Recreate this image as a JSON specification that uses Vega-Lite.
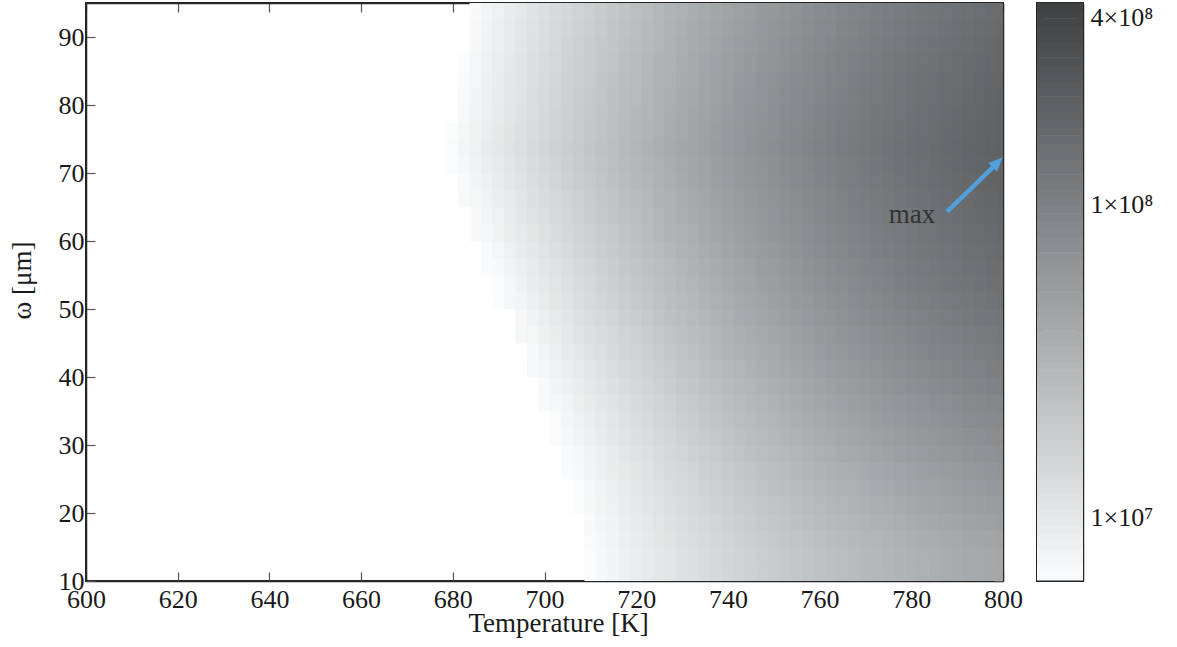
{
"$schema": "https://vega.github.io/schema/vega-lite/v6.json",
"background": "white",
"padding": {"left": 7, "top": 1, "right": 5, "bottom": 5},
"spacing": 11,
"datasets": {
"grid": [
{"T":710,"w":12.5,"lv":6.807},{"T":712.5,"w":12.5,"lv":6.841},{"T":715,"w":12.5,"lv":6.874},{"T":717.5,"w":12.5,"lv":6.907},{"T":720,"w":12.5,"lv":6.939},{"T":722.5,"w":12.5,"lv":6.971},{"T":725,"w":12.5,"lv":7.002},{"T":727.5,"w":12.5,"lv":7.033},{"T":730,"w":12.5,"lv":7.062},{"T":732.5,"w":12.5,"lv":7.091},{"T":735,"w":12.5,"lv":7.120},{"T":737.5,"w":12.5,"lv":7.148},{"T":740,"w":12.5,"lv":7.175},{"T":742.5,"w":12.5,"lv":7.201},{"T":745,"w":12.5,"lv":7.227},{"T":747.5,"w":12.5,"lv":7.252},{"T":750,"w":12.5,"lv":7.277},{"T":752.5,"w":12.5,"lv":7.301},{"T":755,"w":12.5,"lv":7.324},{"T":757.5,"w":12.5,"lv":7.347},{"T":760,"w":12.5,"lv":7.369},{"T":762.5,"w":12.5,"lv":7.390},{"T":765,"w":12.5,"lv":7.411},{"T":767.5,"w":12.5,"lv":7.431},{"T":770,"w":12.5,"lv":7.451},{"T":772.5,"w":12.5,"lv":7.470},{"T":775,"w":12.5,"lv":7.488},{"T":777.5,"w":12.5,"lv":7.505},{"T":780,"w":12.5,"lv":7.522},{"T":782.5,"w":12.5,"lv":7.539},{"T":785,"w":12.5,"lv":7.554},{"T":787.5,"w":12.5,"lv":7.569},{"T":790,"w":12.5,"lv":7.584},{"T":792.5,"w":12.5,"lv":7.598},{"T":795,"w":12.5,"lv":7.611},{"T":797.5,"w":12.5,"lv":7.623},{"T":800,"w":12.5,"lv":7.635},
{"T":710,"w":17.5,"lv":6.826},{"T":712.5,"w":17.5,"lv":6.862},{"T":715,"w":17.5,"lv":6.897},{"T":717.5,"w":17.5,"lv":6.932},{"T":720,"w":17.5,"lv":6.966},{"T":722.5,"w":17.5,"lv":7.000},{"T":725,"w":17.5,"lv":7.033},{"T":727.5,"w":17.5,"lv":7.065},{"T":730,"w":17.5,"lv":7.096},{"T":732.5,"w":17.5,"lv":7.127},{"T":735,"w":17.5,"lv":7.157},{"T":737.5,"w":17.5,"lv":7.187},{"T":740,"w":17.5,"lv":7.216},{"T":742.5,"w":17.5,"lv":7.244},{"T":745,"w":17.5,"lv":7.271},{"T":747.5,"w":17.5,"lv":7.298},{"T":750,"w":17.5,"lv":7.324},{"T":752.5,"w":17.5,"lv":7.350},{"T":755,"w":17.5,"lv":7.374},{"T":757.5,"w":17.5,"lv":7.398},{"T":760,"w":17.5,"lv":7.422},{"T":762.5,"w":17.5,"lv":7.445},{"T":765,"w":17.5,"lv":7.467},{"T":767.5,"w":17.5,"lv":7.488},{"T":770,"w":17.5,"lv":7.509},{"T":772.5,"w":17.5,"lv":7.529},{"T":775,"w":17.5,"lv":7.548},{"T":777.5,"w":17.5,"lv":7.567},{"T":780,"w":17.5,"lv":7.585},{"T":782.5,"w":17.5,"lv":7.602},{"T":785,"w":17.5,"lv":7.619},{"T":787.5,"w":17.5,"lv":7.635},{"T":790,"w":17.5,"lv":7.650},{"T":792.5,"w":17.5,"lv":7.665},{"T":795,"w":17.5,"lv":7.679},{"T":797.5,"w":17.5,"lv":7.692},{"T":800,"w":17.5,"lv":7.705},
{"T":707.5,"w":22.5,"lv":6.816},{"T":710,"w":22.5,"lv":6.854},{"T":712.5,"w":22.5,"lv":6.892},{"T":715,"w":22.5,"lv":6.929},{"T":717.5,"w":22.5,"lv":6.965},{"T":720,"w":22.5,"lv":7.001},{"T":722.5,"w":22.5,"lv":7.036},{"T":725,"w":22.5,"lv":7.070},{"T":727.5,"w":22.5,"lv":7.104},{"T":730,"w":22.5,"lv":7.137},{"T":732.5,"w":22.5,"lv":7.169},{"T":735,"w":22.5,"lv":7.200},{"T":737.5,"w":22.5,"lv":7.231},{"T":740,"w":22.5,"lv":7.261},{"T":742.5,"w":22.5,"lv":7.291},{"T":745,"w":22.5,"lv":7.320},{"T":747.5,"w":22.5,"lv":7.348},{"T":750,"w":22.5,"lv":7.375},{"T":752.5,"w":22.5,"lv":7.402},{"T":755,"w":22.5,"lv":7.428},{"T":757.5,"w":22.5,"lv":7.453},{"T":760,"w":22.5,"lv":7.477},{"T":762.5,"w":22.5,"lv":7.501},{"T":765,"w":22.5,"lv":7.524},{"T":767.5,"w":22.5,"lv":7.547},{"T":770,"w":22.5,"lv":7.568},{"T":772.5,"w":22.5,"lv":7.589},{"T":775,"w":22.5,"lv":7.609},{"T":777.5,"w":22.5,"lv":7.629},{"T":780,"w":22.5,"lv":7.648},{"T":782.5,"w":22.5,"lv":7.667},{"T":785,"w":22.5,"lv":7.684},{"T":787.5,"w":22.5,"lv":7.701},{"T":790,"w":22.5,"lv":7.717},{"T":792.5,"w":22.5,"lv":7.733},{"T":795,"w":22.5,"lv":7.748},{"T":797.5,"w":22.5,"lv":7.762},{"T":800,"w":22.5,"lv":7.775},
{"T":705,"w":27.5,"lv":6.812},{"T":707.5,"w":27.5,"lv":6.853},{"T":710,"w":27.5,"lv":6.893},{"T":712.5,"w":27.5,"lv":6.932},{"T":715,"w":27.5,"lv":6.970},{"T":717.5,"w":27.5,"lv":7.008},{"T":720,"w":27.5,"lv":7.045},{"T":722.5,"w":27.5,"lv":7.081},{"T":725,"w":27.5,"lv":7.116},{"T":727.5,"w":27.5,"lv":7.151},{"T":730,"w":27.5,"lv":7.185},{"T":732.5,"w":27.5,"lv":7.219},{"T":735,"w":27.5,"lv":7.252},{"T":737.5,"w":27.5,"lv":7.284},{"T":740,"w":27.5,"lv":7.315},{"T":742.5,"w":27.5,"lv":7.345},{"T":745,"w":27.5,"lv":7.375},{"T":747.5,"w":27.5,"lv":7.404},{"T":750,"w":27.5,"lv":7.432},{"T":752.5,"w":27.5,"lv":7.460},{"T":755,"w":27.5,"lv":7.487},{"T":757.5,"w":27.5,"lv":7.513},{"T":760,"w":27.5,"lv":7.539},{"T":762.5,"w":27.5,"lv":7.564},{"T":765,"w":27.5,"lv":7.588},{"T":767.5,"w":27.5,"lv":7.611},{"T":770,"w":27.5,"lv":7.634},{"T":772.5,"w":27.5,"lv":7.656},{"T":775,"w":27.5,"lv":7.677},{"T":777.5,"w":27.5,"lv":7.698},{"T":780,"w":27.5,"lv":7.718},{"T":782.5,"w":27.5,"lv":7.737},{"T":785,"w":27.5,"lv":7.755},{"T":787.5,"w":27.5,"lv":7.773},{"T":790,"w":27.5,"lv":7.790},{"T":792.5,"w":27.5,"lv":7.806},{"T":795,"w":27.5,"lv":7.821},{"T":797.5,"w":27.5,"lv":7.836},{"T":800,"w":27.5,"lv":7.850},
{"T":702.5,"w":32.5,"lv":6.817},{"T":705,"w":32.5,"lv":6.859},{"T":707.5,"w":32.5,"lv":6.901},{"T":710,"w":32.5,"lv":6.941},{"T":712.5,"w":32.5,"lv":6.981},{"T":715,"w":32.5,"lv":7.020},{"T":717.5,"w":32.5,"lv":7.059},{"T":720,"w":32.5,"lv":7.097},{"T":722.5,"w":32.5,"lv":7.134},{"T":725,"w":32.5,"lv":7.170},{"T":727.5,"w":32.5,"lv":7.206},{"T":730,"w":32.5,"lv":7.241},{"T":732.5,"w":32.5,"lv":7.275},{"T":735,"w":32.5,"lv":7.309},{"T":737.5,"w":32.5,"lv":7.342},{"T":740,"w":32.5,"lv":7.374},{"T":742.5,"w":32.5,"lv":7.405},{"T":745,"w":32.5,"lv":7.435},{"T":747.5,"w":32.5,"lv":7.465},{"T":750,"w":32.5,"lv":7.494},{"T":752.5,"w":32.5,"lv":7.523},{"T":755,"w":32.5,"lv":7.551},{"T":757.5,"w":32.5,"lv":7.578},{"T":760,"w":32.5,"lv":7.604},{"T":762.5,"w":32.5,"lv":7.629},{"T":765,"w":32.5,"lv":7.654},{"T":767.5,"w":32.5,"lv":7.678},{"T":770,"w":32.5,"lv":7.701},{"T":772.5,"w":32.5,"lv":7.724},{"T":775,"w":32.5,"lv":7.746},{"T":777.5,"w":32.5,"lv":7.767},{"T":780,"w":32.5,"lv":7.787},{"T":782.5,"w":32.5,"lv":7.807},{"T":785,"w":32.5,"lv":7.826},{"T":787.5,"w":32.5,"lv":7.845},{"T":790,"w":32.5,"lv":7.862},{"T":792.5,"w":32.5,"lv":7.879},{"T":795,"w":32.5,"lv":7.895},{"T":797.5,"w":32.5,"lv":7.910},{"T":800,"w":32.5,"lv":7.925},
{"T":700,"w":37.5,"lv":6.826},{"T":702.5,"w":37.5,"lv":6.870},{"T":705,"w":37.5,"lv":6.912},{"T":707.5,"w":37.5,"lv":6.954},{"T":710,"w":37.5,"lv":6.995},{"T":712.5,"w":37.5,"lv":7.036},{"T":715,"w":37.5,"lv":7.076},{"T":717.5,"w":37.5,"lv":7.115},{"T":720,"w":37.5,"lv":7.153},{"T":722.5,"w":37.5,"lv":7.191},{"T":725,"w":37.5,"lv":7.227},{"T":727.5,"w":37.5,"lv":7.263},{"T":730,"w":37.5,"lv":7.298},{"T":732.5,"w":37.5,"lv":7.333},{"T":735,"w":37.5,"lv":7.367},{"T":737.5,"w":37.5,"lv":7.400},{"T":740,"w":37.5,"lv":7.433},{"T":742.5,"w":37.5,"lv":7.465},{"T":745,"w":37.5,"lv":7.496},{"T":747.5,"w":37.5,"lv":7.526},{"T":750,"w":37.5,"lv":7.556},{"T":752.5,"w":37.5,"lv":7.585},{"T":755,"w":37.5,"lv":7.613},{"T":757.5,"w":37.5,"lv":7.640},{"T":760,"w":37.5,"lv":7.667},{"T":762.5,"w":37.5,"lv":7.693},{"T":765,"w":37.5,"lv":7.718},{"T":767.5,"w":37.5,"lv":7.742},{"T":770,"w":37.5,"lv":7.766},{"T":772.5,"w":37.5,"lv":7.789},{"T":775,"w":37.5,"lv":7.811},{"T":777.5,"w":37.5,"lv":7.833},{"T":780,"w":37.5,"lv":7.854},{"T":782.5,"w":37.5,"lv":7.874},{"T":785,"w":37.5,"lv":7.893},{"T":787.5,"w":37.5,"lv":7.912},{"T":790,"w":37.5,"lv":7.930},{"T":792.5,"w":37.5,"lv":7.948},{"T":795,"w":37.5,"lv":7.964},{"T":797.5,"w":37.5,"lv":7.980},{"T":800,"w":37.5,"lv":7.995},
{"T":697.5,"w":42.5,"lv":6.836},{"T":700,"w":42.5,"lv":6.880},{"T":702.5,"w":42.5,"lv":6.924},{"T":705,"w":42.5,"lv":6.967},{"T":707.5,"w":42.5,"lv":7.009},{"T":710,"w":42.5,"lv":7.050},{"T":712.5,"w":42.5,"lv":7.091},{"T":715,"w":42.5,"lv":7.131},{"T":717.5,"w":42.5,"lv":7.170},{"T":720,"w":42.5,"lv":7.208},{"T":722.5,"w":42.5,"lv":7.246},{"T":725,"w":42.5,"lv":7.283},{"T":727.5,"w":42.5,"lv":7.320},{"T":730,"w":42.5,"lv":7.355},{"T":732.5,"w":42.5,"lv":7.390},{"T":735,"w":42.5,"lv":7.424},{"T":737.5,"w":42.5,"lv":7.458},{"T":740,"w":42.5,"lv":7.491},{"T":742.5,"w":42.5,"lv":7.523},{"T":745,"w":42.5,"lv":7.554},{"T":747.5,"w":42.5,"lv":7.584},{"T":750,"w":42.5,"lv":7.614},{"T":752.5,"w":42.5,"lv":7.644},{"T":755,"w":42.5,"lv":7.672},{"T":757.5,"w":42.5,"lv":7.700},{"T":760,"w":42.5,"lv":7.727},{"T":762.5,"w":42.5,"lv":7.753},{"T":765,"w":42.5,"lv":7.778},{"T":767.5,"w":42.5,"lv":7.803},{"T":770,"w":42.5,"lv":7.827},{"T":772.5,"w":42.5,"lv":7.851},{"T":775,"w":42.5,"lv":7.873},{"T":777.5,"w":42.5,"lv":7.895},{"T":780,"w":42.5,"lv":7.916},{"T":782.5,"w":42.5,"lv":7.937},{"T":785,"w":42.5,"lv":7.957},{"T":787.5,"w":42.5,"lv":7.976},{"T":790,"w":42.5,"lv":7.994},{"T":792.5,"w":42.5,"lv":8.011},{"T":795,"w":42.5,"lv":8.028},{"T":797.5,"w":42.5,"lv":8.045},{"T":800,"w":42.5,"lv":8.060},
{"T":695,"w":47.5,"lv":6.846},{"T":697.5,"w":47.5,"lv":6.891},{"T":700,"w":47.5,"lv":6.935},{"T":702.5,"w":47.5,"lv":6.978},{"T":705,"w":47.5,"lv":7.021},{"T":707.5,"w":47.5,"lv":7.063},{"T":710,"w":47.5,"lv":7.104},{"T":712.5,"w":47.5,"lv":7.145},{"T":715,"w":47.5,"lv":7.185},{"T":717.5,"w":47.5,"lv":7.225},{"T":720,"w":47.5,"lv":7.263},{"T":722.5,"w":47.5,"lv":7.301},{"T":725,"w":47.5,"lv":7.338},{"T":727.5,"w":47.5,"lv":7.375},{"T":730,"w":47.5,"lv":7.410},{"T":732.5,"w":47.5,"lv":7.445},{"T":735,"w":47.5,"lv":7.479},{"T":737.5,"w":47.5,"lv":7.513},{"T":740,"w":47.5,"lv":7.546},{"T":742.5,"w":47.5,"lv":7.578},{"T":745,"w":47.5,"lv":7.609},{"T":747.5,"w":47.5,"lv":7.640},{"T":750,"w":47.5,"lv":7.670},{"T":752.5,"w":47.5,"lv":7.699},{"T":755,"w":47.5,"lv":7.728},{"T":757.5,"w":47.5,"lv":7.756},{"T":760,"w":47.5,"lv":7.783},{"T":762.5,"w":47.5,"lv":7.810},{"T":765,"w":47.5,"lv":7.835},{"T":767.5,"w":47.5,"lv":7.860},{"T":770,"w":47.5,"lv":7.884},{"T":772.5,"w":47.5,"lv":7.908},{"T":775,"w":47.5,"lv":7.931},{"T":777.5,"w":47.5,"lv":7.953},{"T":780,"w":47.5,"lv":7.974},{"T":782.5,"w":47.5,"lv":7.995},{"T":785,"w":47.5,"lv":8.015},{"T":787.5,"w":47.5,"lv":8.034},{"T":790,"w":47.5,"lv":8.053},{"T":792.5,"w":47.5,"lv":8.071},{"T":795,"w":47.5,"lv":8.088},{"T":797.5,"w":47.5,"lv":8.104},{"T":800,"w":47.5,"lv":8.120},
{"T":690,"w":52.5,"lv":6.809},{"T":692.5,"w":52.5,"lv":6.855},{"T":695,"w":52.5,"lv":6.901},{"T":697.5,"w":52.5,"lv":6.946},{"T":700,"w":52.5,"lv":6.990},{"T":702.5,"w":52.5,"lv":7.033},{"T":705,"w":52.5,"lv":7.076},{"T":707.5,"w":52.5,"lv":7.118},{"T":710,"w":52.5,"lv":7.159},{"T":712.5,"w":52.5,"lv":7.199},{"T":715,"w":52.5,"lv":7.239},{"T":717.5,"w":52.5,"lv":7.279},{"T":720,"w":52.5,"lv":7.317},{"T":722.5,"w":52.5,"lv":7.355},{"T":725,"w":52.5,"lv":7.392},{"T":727.5,"w":52.5,"lv":7.428},{"T":730,"w":52.5,"lv":7.463},{"T":732.5,"w":52.5,"lv":7.498},{"T":735,"w":52.5,"lv":7.532},{"T":737.5,"w":52.5,"lv":7.566},{"T":740,"w":52.5,"lv":7.599},{"T":742.5,"w":52.5,"lv":7.631},{"T":745,"w":52.5,"lv":7.662},{"T":747.5,"w":52.5,"lv":7.693},{"T":750,"w":52.5,"lv":7.723},{"T":752.5,"w":52.5,"lv":7.752},{"T":755,"w":52.5,"lv":7.781},{"T":757.5,"w":52.5,"lv":7.809},{"T":760,"w":52.5,"lv":7.836},{"T":762.5,"w":52.5,"lv":7.862},{"T":765,"w":52.5,"lv":7.888},{"T":767.5,"w":52.5,"lv":7.913},{"T":770,"w":52.5,"lv":7.937},{"T":772.5,"w":52.5,"lv":7.961},{"T":775,"w":52.5,"lv":7.984},{"T":777.5,"w":52.5,"lv":8.007},{"T":780,"w":52.5,"lv":8.028},{"T":782.5,"w":52.5,"lv":8.049},{"T":785,"w":52.5,"lv":8.069},{"T":787.5,"w":52.5,"lv":8.089},{"T":790,"w":52.5,"lv":8.107},{"T":792.5,"w":52.5,"lv":8.125},{"T":795,"w":52.5,"lv":8.142},{"T":797.5,"w":52.5,"lv":8.159},{"T":800,"w":52.5,"lv":8.175},
{"T":687.5,"w":57.5,"lv":6.819},{"T":690,"w":57.5,"lv":6.865},{"T":692.5,"w":57.5,"lv":6.911},{"T":695,"w":57.5,"lv":6.956},{"T":697.5,"w":57.5,"lv":7.000},{"T":700,"w":57.5,"lv":7.043},{"T":702.5,"w":57.5,"lv":7.086},{"T":705,"w":57.5,"lv":7.128},{"T":707.5,"w":57.5,"lv":7.170},{"T":710,"w":57.5,"lv":7.211},{"T":712.5,"w":57.5,"lv":7.251},{"T":715,"w":57.5,"lv":7.290},{"T":717.5,"w":57.5,"lv":7.329},{"T":720,"w":57.5,"lv":7.367},{"T":722.5,"w":57.5,"lv":7.404},{"T":725,"w":57.5,"lv":7.441},{"T":727.5,"w":57.5,"lv":7.477},{"T":730,"w":57.5,"lv":7.512},{"T":732.5,"w":57.5,"lv":7.547},{"T":735,"w":57.5,"lv":7.581},{"T":737.5,"w":57.5,"lv":7.614},{"T":740,"w":57.5,"lv":7.646},{"T":742.5,"w":57.5,"lv":7.678},{"T":745,"w":57.5,"lv":7.709},{"T":747.5,"w":57.5,"lv":7.740},{"T":750,"w":57.5,"lv":7.770},{"T":752.5,"w":57.5,"lv":7.799},{"T":755,"w":57.5,"lv":7.827},{"T":757.5,"w":57.5,"lv":7.855},{"T":760,"w":57.5,"lv":7.882},{"T":762.5,"w":57.5,"lv":7.908},{"T":765,"w":57.5,"lv":7.934},{"T":767.5,"w":57.5,"lv":7.959},{"T":770,"w":57.5,"lv":7.983},{"T":772.5,"w":57.5,"lv":8.006},{"T":775,"w":57.5,"lv":8.029},{"T":777.5,"w":57.5,"lv":8.051},{"T":780,"w":57.5,"lv":8.073},{"T":782.5,"w":57.5,"lv":8.094},{"T":785,"w":57.5,"lv":8.114},{"T":787.5,"w":57.5,"lv":8.133},{"T":790,"w":57.5,"lv":8.152},{"T":792.5,"w":57.5,"lv":8.170},{"T":795,"w":57.5,"lv":8.187},{"T":797.5,"w":57.5,"lv":8.204},{"T":800,"w":57.5,"lv":8.220},
{"T":685,"w":62.5,"lv":6.824},{"T":687.5,"w":62.5,"lv":6.870},{"T":690,"w":62.5,"lv":6.916},{"T":692.5,"w":62.5,"lv":6.961},{"T":695,"w":62.5,"lv":7.005},{"T":697.5,"w":62.5,"lv":7.049},{"T":700,"w":62.5,"lv":7.092},{"T":702.5,"w":62.5,"lv":7.134},{"T":705,"w":62.5,"lv":7.176},{"T":707.5,"w":62.5,"lv":7.217},{"T":710,"w":62.5,"lv":7.257},{"T":712.5,"w":62.5,"lv":7.297},{"T":715,"w":62.5,"lv":7.336},{"T":717.5,"w":62.5,"lv":7.374},{"T":720,"w":62.5,"lv":7.412},{"T":722.5,"w":62.5,"lv":7.449},{"T":725,"w":62.5,"lv":7.485},{"T":727.5,"w":62.5,"lv":7.521},{"T":730,"w":62.5,"lv":7.556},{"T":732.5,"w":62.5,"lv":7.590},{"T":735,"w":62.5,"lv":7.624},{"T":737.5,"w":62.5,"lv":7.657},{"T":740,"w":62.5,"lv":7.689},{"T":742.5,"w":62.5,"lv":7.720},{"T":745,"w":62.5,"lv":7.751},{"T":747.5,"w":62.5,"lv":7.781},{"T":750,"w":62.5,"lv":7.811},{"T":752.5,"w":62.5,"lv":7.840},{"T":755,"w":62.5,"lv":7.868},{"T":757.5,"w":62.5,"lv":7.896},{"T":760,"w":62.5,"lv":7.923},{"T":762.5,"w":62.5,"lv":7.949},{"T":765,"w":62.5,"lv":7.974},{"T":767.5,"w":62.5,"lv":7.999},{"T":770,"w":62.5,"lv":8.023},{"T":772.5,"w":62.5,"lv":8.046},{"T":775,"w":62.5,"lv":8.069},{"T":777.5,"w":62.5,"lv":8.092},{"T":780,"w":62.5,"lv":8.113},{"T":782.5,"w":62.5,"lv":8.134},{"T":785,"w":62.5,"lv":8.154},{"T":787.5,"w":62.5,"lv":8.173},{"T":790,"w":62.5,"lv":8.192},{"T":792.5,"w":62.5,"lv":8.210},{"T":795,"w":62.5,"lv":8.227},{"T":797.5,"w":62.5,"lv":8.244},{"T":800,"w":62.5,"lv":8.260},
{"T":682.5,"w":67.5,"lv":6.823},{"T":685,"w":67.5,"lv":6.870},{"T":687.5,"w":67.5,"lv":6.916},{"T":690,"w":67.5,"lv":6.961},{"T":692.5,"w":67.5,"lv":7.006},{"T":695,"w":67.5,"lv":7.050},{"T":697.5,"w":67.5,"lv":7.093},{"T":700,"w":67.5,"lv":7.135},{"T":702.5,"w":67.5,"lv":7.177},{"T":705,"w":67.5,"lv":7.218},{"T":707.5,"w":67.5,"lv":7.259},{"T":710,"w":67.5,"lv":7.299},{"T":712.5,"w":67.5,"lv":7.339},{"T":715,"w":67.5,"lv":7.377},{"T":717.5,"w":67.5,"lv":7.415},{"T":720,"w":67.5,"lv":7.452},{"T":722.5,"w":67.5,"lv":7.489},{"T":725,"w":67.5,"lv":7.525},{"T":727.5,"w":67.5,"lv":7.560},{"T":730,"w":67.5,"lv":7.595},{"T":732.5,"w":67.5,"lv":7.629},{"T":735,"w":67.5,"lv":7.662},{"T":737.5,"w":67.5,"lv":7.695},{"T":740,"w":67.5,"lv":7.727},{"T":742.5,"w":67.5,"lv":7.758},{"T":745,"w":67.5,"lv":7.788},{"T":747.5,"w":67.5,"lv":7.818},{"T":750,"w":67.5,"lv":7.847},{"T":752.5,"w":67.5,"lv":7.876},{"T":755,"w":67.5,"lv":7.904},{"T":757.5,"w":67.5,"lv":7.932},{"T":760,"w":67.5,"lv":7.958},{"T":762.5,"w":67.5,"lv":7.984},{"T":765,"w":67.5,"lv":8.009},{"T":767.5,"w":67.5,"lv":8.034},{"T":770,"w":67.5,"lv":8.058},{"T":772.5,"w":67.5,"lv":8.082},{"T":775,"w":67.5,"lv":8.105},{"T":777.5,"w":67.5,"lv":8.127},{"T":780,"w":67.5,"lv":8.148},{"T":782.5,"w":67.5,"lv":8.169},{"T":785,"w":67.5,"lv":8.189},{"T":787.5,"w":67.5,"lv":8.208},{"T":790,"w":67.5,"lv":8.227},{"T":792.5,"w":67.5,"lv":8.245},{"T":795,"w":67.5,"lv":8.262},{"T":797.5,"w":67.5,"lv":8.279},{"T":800,"w":67.5,"lv":8.295},
{"T":680,"w":72.5,"lv":6.819},{"T":682.5,"w":72.5,"lv":6.865},{"T":685,"w":72.5,"lv":6.911},{"T":687.5,"w":72.5,"lv":6.956},{"T":690,"w":72.5,"lv":7.001},{"T":692.5,"w":72.5,"lv":7.045},{"T":695,"w":72.5,"lv":7.088},{"T":697.5,"w":72.5,"lv":7.131},{"T":700,"w":72.5,"lv":7.173},{"T":702.5,"w":72.5,"lv":7.214},{"T":705,"w":72.5,"lv":7.255},{"T":707.5,"w":72.5,"lv":7.295},{"T":710,"w":72.5,"lv":7.334},{"T":712.5,"w":72.5,"lv":7.373},{"T":715,"w":72.5,"lv":7.411},{"T":717.5,"w":72.5,"lv":7.449},{"T":720,"w":72.5,"lv":7.485},{"T":722.5,"w":72.5,"lv":7.521},{"T":725,"w":72.5,"lv":7.557},{"T":727.5,"w":72.5,"lv":7.592},{"T":730,"w":72.5,"lv":7.626},{"T":732.5,"w":72.5,"lv":7.659},{"T":735,"w":72.5,"lv":7.692},{"T":737.5,"w":72.5,"lv":7.725},{"T":740,"w":72.5,"lv":7.756},{"T":742.5,"w":72.5,"lv":7.787},{"T":745,"w":72.5,"lv":7.817},{"T":747.5,"w":72.5,"lv":7.847},{"T":750,"w":72.5,"lv":7.876},{"T":752.5,"w":72.5,"lv":7.904},{"T":755,"w":72.5,"lv":7.932},{"T":757.5,"w":72.5,"lv":7.959},{"T":760,"w":72.5,"lv":7.986},{"T":762.5,"w":72.5,"lv":8.012},{"T":765,"w":72.5,"lv":8.037},{"T":767.5,"w":72.5,"lv":8.061},{"T":770,"w":72.5,"lv":8.085},{"T":772.5,"w":72.5,"lv":8.108},{"T":775,"w":72.5,"lv":8.130},{"T":777.5,"w":72.5,"lv":8.152},{"T":780,"w":72.5,"lv":8.173},{"T":782.5,"w":72.5,"lv":8.194},{"T":785,"w":72.5,"lv":8.214},{"T":787.5,"w":72.5,"lv":8.233},{"T":790,"w":72.5,"lv":8.252},{"T":792.5,"w":72.5,"lv":8.270},{"T":795,"w":72.5,"lv":8.287},{"T":797.5,"w":72.5,"lv":8.304},{"T":800,"w":72.5,"lv":8.320},
{"T":682.5,"w":77.5,"lv":6.837},{"T":685,"w":77.5,"lv":6.883},{"T":687.5,"w":77.5,"lv":6.929},{"T":690,"w":77.5,"lv":6.974},{"T":692.5,"w":77.5,"lv":7.018},{"T":695,"w":77.5,"lv":7.062},{"T":697.5,"w":77.5,"lv":7.105},{"T":700,"w":77.5,"lv":7.147},{"T":702.5,"w":77.5,"lv":7.189},{"T":705,"w":77.5,"lv":7.230},{"T":707.5,"w":77.5,"lv":7.270},{"T":710,"w":77.5,"lv":7.310},{"T":712.5,"w":77.5,"lv":7.349},{"T":715,"w":77.5,"lv":7.387},{"T":717.5,"w":77.5,"lv":7.425},{"T":720,"w":77.5,"lv":7.462},{"T":722.5,"w":77.5,"lv":7.498},{"T":725,"w":77.5,"lv":7.534},{"T":727.5,"w":77.5,"lv":7.569},{"T":730,"w":77.5,"lv":7.603},{"T":732.5,"w":77.5,"lv":7.637},{"T":735,"w":77.5,"lv":7.670},{"T":737.5,"w":77.5,"lv":7.703},{"T":740,"w":77.5,"lv":7.734},{"T":742.5,"w":77.5,"lv":7.765},{"T":745,"w":77.5,"lv":7.796},{"T":747.5,"w":77.5,"lv":7.826},{"T":750,"w":77.5,"lv":7.855},{"T":752.5,"w":77.5,"lv":7.883},{"T":755,"w":77.5,"lv":7.911},{"T":757.5,"w":77.5,"lv":7.939},{"T":760,"w":77.5,"lv":7.965},{"T":762.5,"w":77.5,"lv":7.991},{"T":765,"w":77.5,"lv":8.016},{"T":767.5,"w":77.5,"lv":8.041},{"T":770,"w":77.5,"lv":8.065},{"T":772.5,"w":77.5,"lv":8.088},{"T":775,"w":77.5,"lv":8.110},{"T":777.5,"w":77.5,"lv":8.132},{"T":780,"w":77.5,"lv":8.153},{"T":782.5,"w":77.5,"lv":8.174},{"T":785,"w":77.5,"lv":8.194},{"T":787.5,"w":77.5,"lv":8.213},{"T":790,"w":77.5,"lv":8.232},{"T":792.5,"w":77.5,"lv":8.250},{"T":795,"w":77.5,"lv":8.267},{"T":797.5,"w":77.5,"lv":8.284},{"T":800,"w":77.5,"lv":8.300},
{"T":682.5,"w":82.5,"lv":6.819},{"T":685,"w":82.5,"lv":6.865},{"T":687.5,"w":82.5,"lv":6.910},{"T":690,"w":82.5,"lv":6.955},{"T":692.5,"w":82.5,"lv":6.999},{"T":695,"w":82.5,"lv":7.042},{"T":697.5,"w":82.5,"lv":7.085},{"T":700,"w":82.5,"lv":7.127},{"T":702.5,"w":82.5,"lv":7.169},{"T":705,"w":82.5,"lv":7.210},{"T":707.5,"w":82.5,"lv":7.250},{"T":710,"w":82.5,"lv":7.289},{"T":712.5,"w":82.5,"lv":7.328},{"T":715,"w":82.5,"lv":7.366},{"T":717.5,"w":82.5,"lv":7.404},{"T":720,"w":82.5,"lv":7.441},{"T":722.5,"w":82.5,"lv":7.477},{"T":725,"w":82.5,"lv":7.513},{"T":727.5,"w":82.5,"lv":7.548},{"T":730,"w":82.5,"lv":7.582},{"T":732.5,"w":82.5,"lv":7.616},{"T":735,"w":82.5,"lv":7.649},{"T":737.5,"w":82.5,"lv":7.681},{"T":740,"w":82.5,"lv":7.713},{"T":742.5,"w":82.5,"lv":7.744},{"T":745,"w":82.5,"lv":7.774},{"T":747.5,"w":82.5,"lv":7.804},{"T":750,"w":82.5,"lv":7.833},{"T":752.5,"w":82.5,"lv":7.861},{"T":755,"w":82.5,"lv":7.889},{"T":757.5,"w":82.5,"lv":7.916},{"T":760,"w":82.5,"lv":7.942},{"T":762.5,"w":82.5,"lv":7.968},{"T":765,"w":82.5,"lv":7.993},{"T":767.5,"w":82.5,"lv":8.017},{"T":770,"w":82.5,"lv":8.041},{"T":772.5,"w":82.5,"lv":8.064},{"T":775,"w":82.5,"lv":8.086},{"T":777.5,"w":82.5,"lv":8.108},{"T":780,"w":82.5,"lv":8.129},{"T":782.5,"w":82.5,"lv":8.150},{"T":785,"w":82.5,"lv":8.170},{"T":787.5,"w":82.5,"lv":8.189},{"T":790,"w":82.5,"lv":8.207},{"T":792.5,"w":82.5,"lv":8.225},{"T":795,"w":82.5,"lv":8.242},{"T":797.5,"w":82.5,"lv":8.259},{"T":800,"w":82.5,"lv":8.275},
{"T":685,"w":87.5,"lv":6.846},{"T":687.5,"w":87.5,"lv":6.891},{"T":690,"w":87.5,"lv":6.935},{"T":692.5,"w":87.5,"lv":6.979},{"T":695,"w":87.5,"lv":7.022},{"T":697.5,"w":87.5,"lv":7.065},{"T":700,"w":87.5,"lv":7.107},{"T":702.5,"w":87.5,"lv":7.148},{"T":705,"w":87.5,"lv":7.189},{"T":707.5,"w":87.5,"lv":7.229},{"T":710,"w":87.5,"lv":7.268},{"T":712.5,"w":87.5,"lv":7.306},{"T":715,"w":87.5,"lv":7.344},{"T":717.5,"w":87.5,"lv":7.382},{"T":720,"w":87.5,"lv":7.418},{"T":722.5,"w":87.5,"lv":7.454},{"T":725,"w":87.5,"lv":7.489},{"T":727.5,"w":87.5,"lv":7.524},{"T":730,"w":87.5,"lv":7.558},{"T":732.5,"w":87.5,"lv":7.591},{"T":735,"w":87.5,"lv":7.624},{"T":737.5,"w":87.5,"lv":7.656},{"T":740,"w":87.5,"lv":7.687},{"T":742.5,"w":87.5,"lv":7.718},{"T":745,"w":87.5,"lv":7.748},{"T":747.5,"w":87.5,"lv":7.778},{"T":750,"w":87.5,"lv":7.807},{"T":752.5,"w":87.5,"lv":7.835},{"T":755,"w":87.5,"lv":7.862},{"T":757.5,"w":87.5,"lv":7.889},{"T":760,"w":87.5,"lv":7.915},{"T":762.5,"w":87.5,"lv":7.941},{"T":765,"w":87.5,"lv":7.966},{"T":767.5,"w":87.5,"lv":7.990},{"T":770,"w":87.5,"lv":8.013},{"T":772.5,"w":87.5,"lv":8.036},{"T":775,"w":87.5,"lv":8.058},{"T":777.5,"w":87.5,"lv":8.080},{"T":780,"w":87.5,"lv":8.101},{"T":782.5,"w":87.5,"lv":8.121},{"T":785,"w":87.5,"lv":8.141},{"T":787.5,"w":87.5,"lv":8.160},{"T":790,"w":87.5,"lv":8.178},{"T":792.5,"w":87.5,"lv":8.196},{"T":795,"w":87.5,"lv":8.213},{"T":797.5,"w":87.5,"lv":8.229},{"T":800,"w":87.5,"lv":8.245},
{"T":685,"w":92.5,"lv":6.827},{"T":687.5,"w":92.5,"lv":6.872},{"T":690,"w":92.5,"lv":6.916},{"T":692.5,"w":92.5,"lv":6.960},{"T":695,"w":92.5,"lv":7.003},{"T":697.5,"w":92.5,"lv":7.045},{"T":700,"w":92.5,"lv":7.086},{"T":702.5,"w":92.5,"lv":7.127},{"T":705,"w":92.5,"lv":7.167},{"T":707.5,"w":92.5,"lv":7.207},{"T":710,"w":92.5,"lv":7.246},{"T":712.5,"w":92.5,"lv":7.284},{"T":715,"w":92.5,"lv":7.322},{"T":717.5,"w":92.5,"lv":7.359},{"T":720,"w":92.5,"lv":7.395},{"T":722.5,"w":92.5,"lv":7.431},{"T":725,"w":92.5,"lv":7.466},{"T":727.5,"w":92.5,"lv":7.501},{"T":730,"w":92.5,"lv":7.535},{"T":732.5,"w":92.5,"lv":7.568},{"T":735,"w":92.5,"lv":7.600},{"T":737.5,"w":92.5,"lv":7.632},{"T":740,"w":92.5,"lv":7.663},{"T":742.5,"w":92.5,"lv":7.693},{"T":745,"w":92.5,"lv":7.723},{"T":747.5,"w":92.5,"lv":7.753},{"T":750,"w":92.5,"lv":7.781},{"T":752.5,"w":92.5,"lv":7.809},{"T":755,"w":92.5,"lv":7.836},{"T":757.5,"w":92.5,"lv":7.863},{"T":760,"w":92.5,"lv":7.889},{"T":762.5,"w":92.5,"lv":7.914},{"T":765,"w":92.5,"lv":7.939},{"T":767.5,"w":92.5,"lv":7.963},{"T":770,"w":92.5,"lv":7.986},{"T":772.5,"w":92.5,"lv":8.008},{"T":775,"w":92.5,"lv":8.030},{"T":777.5,"w":92.5,"lv":8.052},{"T":780,"w":92.5,"lv":8.073},{"T":782.5,"w":92.5,"lv":8.093},{"T":785,"w":92.5,"lv":8.112},{"T":787.5,"w":92.5,"lv":8.131},{"T":790,"w":92.5,"lv":8.149},{"T":792.5,"w":92.5,"lv":8.166},{"T":795,"w":92.5,"lv":8.183},{"T":797.5,"w":92.5,"lv":8.199},{"T":800,"w":92.5,"lv":8.215}
],
"cbar": [
{"lv":6.81},{"lv":6.835},{"lv":6.86},{"lv":6.885},{"lv":6.91},{"lv":6.935},{"lv":6.96},{"lv":6.985},{"lv":7.01},{"lv":7.035},{"lv":7.06},{"lv":7.085},{"lv":7.11},{"lv":7.135},{"lv":7.16},{"lv":7.185},{"lv":7.21},{"lv":7.235},{"lv":7.26},{"lv":7.285},{"lv":7.31},{"lv":7.335},{"lv":7.36},{"lv":7.385},{"lv":7.41},{"lv":7.435},{"lv":7.46},{"lv":7.485},{"lv":7.51},{"lv":7.535},{"lv":7.56},{"lv":7.585},{"lv":7.61},{"lv":7.635},{"lv":7.66},{"lv":7.685},{"lv":7.71},{"lv":7.735},{"lv":7.76},{"lv":7.785},{"lv":7.81},{"lv":7.835},{"lv":7.86},{"lv":7.885},{"lv":7.91},{"lv":7.935},{"lv":7.96},{"lv":7.985},{"lv":8.01},{"lv":8.035},{"lv":8.06},{"lv":8.085},{"lv":8.11},{"lv":8.135},{"lv":8.16},{"lv":8.185},{"lv":8.21},{"lv":8.235},{"lv":8.26},{"lv":8.285},{"lv":8.31},{"lv":8.335},{"lv":8.36},{"lv":8.385},{"lv":8.41},{"lv":8.435},{"lv":8.46},{"lv":8.485},{"lv":8.51},{"lv":8.535},{"lv":8.56},{"lv":8.585},{"lv":8.61},{"lv":8.635}
],
"arrow": [{"T":787.8,"w":64.3},{"T":798.5,"w":71.3}],
"head": [{"T":798.76,"w":71.5}],
"note": [{"T":785.2,"w":62.6,"label":"max"}]
},
"hconcat": [
{
"width": 917,
"height": 578,
"layer": [
{
"data": {"name": "grid"},
"mark": {"type": "rect", "width": 12, "height": 34.8, "clip": true},
"encoding": {
"x": {"field": "T", "type": "quantitative", "scale": {"domain": [600, 800], "nice": false, "zero": false},
"axis": {"orient": "bottom", "values": [600,620,640,660,680,700,720,740,760,780,800], "tickSize": -9, "labelPadding": 14, "labelFont": "Liberation Serif", "title": "Temperature [K]", "titleFont": "Liberation Serif", "titlePadding": -2, "titleX": 472, "labelOverlap": false, "labelFlush": false}},
"y": {"field": "w", "type": "quantitative", "scale": {"domain": [10, 95], "nice": false, "zero": false},
"axis": {"orient": "left", "values": [10,20,30,40,50,60,70,80,90], "tickSize": -9, "labelPadding": 11, "labelFont": "Liberation Serif", "title": "ω [μm]", "titleFont": "Liberation Serif", "titlePadding": 22, "titleY": 277, "labelOverlap": false, "labelFlush": false}},
"color": {"field": "lv", "type": "quantitative", "scale": {"domain": [6.795, 8.0, 8.647], "range": ["#fafcfd", "#7e8183", "#3e4042"], "interpolate": "rgb"}, "legend": null}
}
},
{
"data": {"name": "grid"},
"mark": {"type": "rect", "width": 12, "height": 34.8, "clip": true, "opacity": 0.5, "yOffset": -17},
"encoding": {
"x": {"field": "T", "type": "quantitative", "scale": {"domain": [600, 800], "nice": false, "zero": false}, "axis": null},
"y": {"field": "w", "type": "quantitative", "scale": {"domain": [10, 95], "nice": false, "zero": false}, "axis": null},
"color": {"field": "lv", "type": "quantitative", "scale": {"domain": [6.795, 8.0, 8.647], "range": ["#fafcfd", "#7e8183", "#3e4042"], "interpolate": "rgb"}, "legend": null}
}
},
{
"data": {"name": "grid"},
"mark": {"type": "point", "opacity": 0},
"encoding": {
"x": {"field": "T", "type": "quantitative", "scale": {"domain": [600, 800], "nice": false, "zero": false},
"axis": {"orient": "top", "values": [600,620,640,660,680,700,720,740,760,780,800], "tickSize": -9, "labels": false, "title": null}},
"y": {"field": "w", "type": "quantitative", "scale": {"domain": [10, 95], "nice": false, "zero": false},
"axis": {"orient": "right", "values": [10,20,30,40,50,60,70,80,90], "tickSize": -9, "labels": false, "title": null}}
}
},
{
"data": {"name": "arrow"},
"mark": {"type": "line", "color": "#529fdb", "strokeWidth": 4.5, "strokeCap": "butt"},
"encoding": {
"x": {"field": "T", "type": "quantitative", "scale": {"domain": [600, 800], "nice": false, "zero": false}, "axis": null},
"y": {"field": "w", "type": "quantitative", "scale": {"domain": [10, 95], "nice": false, "zero": false}, "axis": null}
}
},
{
"data": {"name": "head"},
"mark": {"type": "point", "shape": "M0,-1L0.8,0.85L-0.8,0.85Z", "filled": true, "size": 240, "angle": 45, "color": "#529fdb", "opacity": 1, "strokeWidth": 0},
"encoding": {
"x": {"field": "T", "type": "quantitative", "scale": {"domain": [600, 800], "nice": false, "zero": false}, "axis": null},
"y": {"field": "w", "type": "quantitative", "scale": {"domain": [10, 95], "nice": false, "zero": false}, "axis": null}
}
},
{
"data": {"name": "note"},
"mark": {"type": "text", "align": "right", "baseline": "alphabetic", "fontSize": 27, "font": "Liberation Serif", "color": "#333333"},
"encoding": {
"x": {"field": "T", "type": "quantitative", "scale": {"domain": [600, 800], "nice": false, "zero": false}, "axis": null},
"y": {"field": "w", "type": "quantitative", "scale": {"domain": [10, 95], "nice": false, "zero": false}, "axis": null},
"text": {"field": "label"}
}
}
],
"resolve": {"axis": {"x": "independent", "y": "independent"}}
},
{
"width": 46,
"height": 578,
"data": {"name": "cbar"},
"layer": [
{
"mark": {"type": "rect", "height": 8.4, "clip": true},
"encoding": {
"x": {"datum": 0, "type": "quantitative", "scale": {"domain": [0, 1], "nice": false, "zero": false}, "axis": null},
"x2": {"datum": 1},
"y": {"field": "lv", "type": "quantitative", "scale": {"domain": [6.795, 8.647], "nice": false, "zero": false},
"axis": {"orient": "left", "values": [6.8,7,7.2,7.4,7.6,7.8,8,8.2,8.4,8.6], "tickSize": -6, "labels": false, "title": null}},
"color": {"field": "lv", "type": "quantitative", "scale": {"domain": [6.795, 8.0, 8.647], "range": ["#fafcfd", "#7e8183", "#3e4042"], "interpolate": "rgb"}, "legend": null}
}
},
{
"mark": {"type": "point", "opacity": 0},
"encoding": {
"x": {"datum": 0.5, "type": "quantitative", "scale": {"domain": [0, 1], "nice": false, "zero": false}, "axis": null},
"y": {"field": "lv", "type": "quantitative", "scale": {"domain": [6.795, 8.647], "nice": false, "zero": false},
"axis": {"orient": "right", "values": [6.8,7,7.2,7.4,7.6,7.8,8,8.2,8.4,8.6], "tickSize": -6, "labelPadding": 13, "labelFont": "Liberation Serif", "labelOverlap": false, "labelFlush": false, "title": null,
"labelExpr": "abs(datum.value-7)<0.01 ? '1×10⁷' : (abs(datum.value-8)<0.01 ? '1×10⁸' : (abs(datum.value-8.6)<0.01 ? '4×10⁸' : ''))"}}
}
}
],
"resolve": {"axis": {"y": "independent"}}
}
],
"config": {
"font": "Liberation Serif",
"view": {"stroke": "#262626", "strokeWidth": 2},
"axis": {"grid": false, "domainColor": "#262626", "domainWidth": 1.5, "tickColor": "#555555", "tickWidth": 1.2, "labelFont": "Liberation Serif", "labelFontSize": 26, "labelColor": "#1a1a1a", "titleFont": "Liberation Serif", "titleFontSize": 27, "titleFontWeight": "normal", "titleColor": "#1a1a1a"}
}
}
